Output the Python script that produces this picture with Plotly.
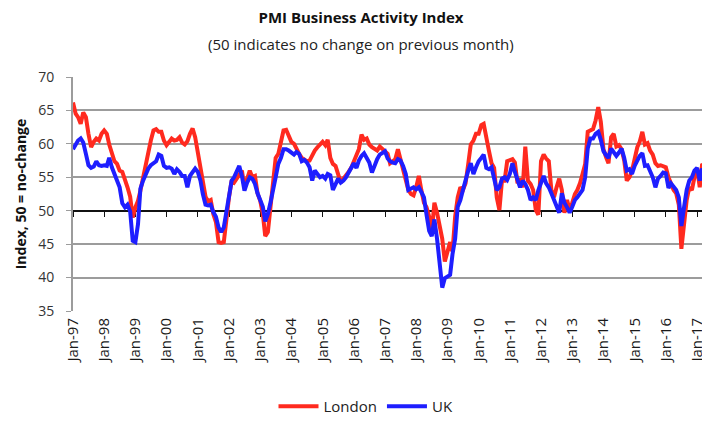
"""PMI Business Activity Index: London vs UK, monthly, Jan-97 to Apr-17."""

import pandas as pd
import plotly.graph_objects as go

START_MONTH = "1997-01-01"

# London business activity index, by year
LONDON = [
    66.2, 64.5, 64.0, 63.0, 64.7, 64.0, 61.5, 59.5, 60.3, 60.8, 60.5, 61.5,  # 1997
    62.0, 61.5, 59.9, 58.5, 57.4, 57.0, 56.0, 55.8, 54.8, 53.5, 52.1, 49.0,  # 1998
    50.5, 51.5, 53.0, 55.0, 56.5, 58.5, 60.5, 62.0, 62.2, 61.8, 61.8, 60.5,  # 1999
    59.8, 60.3, 60.8, 60.5, 60.6, 61.0, 60.2, 59.9, 60.4, 61.5, 62.3, 61.0,  # 2000
    58.5, 56.5, 54.0, 52.1, 51.4, 51.6, 49.5, 48.3, 45.3, 45.2, 45.3, 49.1,  # 2001
    52.0, 54.5, 54.2, 54.8, 55.5, 56.0, 53.5, 55.0, 56.0, 55.0, 55.2, 52.6,  # 2002
    51.5, 49.5, 46.2, 46.8, 50.6, 54.5, 57.9, 58.5, 60.5, 62.0, 62.1, 61.3,  # 2003
    60.3, 60.0, 59.2, 58.5, 57.9, 57.6, 57.4, 57.5, 58.4, 59.0, 59.5, 59.9,  # 2004
    60.3, 59.8, 60.6, 57.9, 57.0, 56.7, 55.5, 54.2, 54.8, 55.2, 55.8, 56.4,  # 2005
    57.5, 58.4, 59.2, 61.4, 60.6, 60.8, 59.9, 59.5, 59.2, 59.0, 59.6, 59.2,  # 2006
    59.0, 58.5, 57.1, 57.5, 57.7, 59.2, 57.7, 56.4, 55.0, 53.1, 52.5, 52.3,  # 2007
    53.5, 55.2, 53.1, 51.2, 50.5, 49.1, 46.8, 51.2, 49.7, 48.0, 45.8, 42.4,  # 2008
    44.0, 45.3, 43.9, 49.1, 52.0, 53.5, 53.1, 54.1, 57.0, 59.9, 60.5, 61.5,  # 2009
    61.5, 62.8, 63.0, 60.5, 59.0, 57.1, 56.4, 52.0, 50.1, 54.5, 54.5, 57.4,  # 2010
    57.5, 57.7, 57.2, 54.1, 54.8, 53.5, 59.6, 54.5, 54.0, 53.1, 50.1, 49.4,  # 2011
    57.4, 58.4, 57.8, 57.4, 53.1, 52.0, 53.5, 54.8, 53.1, 49.7, 51.6, 50.1,  # 2012
    51.2, 52.5, 53.1, 54.1, 55.5, 57.0, 61.8, 62.0, 62.2, 63.5, 65.5, 63.3,  # 2013
    59.2, 58.0, 57.1, 61.0, 61.5, 59.6, 59.8, 59.2, 57.5, 54.5, 55.0, 56.0,  # 2014
    57.9, 59.5, 60.3, 61.8, 59.9, 60.1, 59.0, 58.4, 57.1, 56.7, 56.8, 56.7,  # 2015
    56.5, 55.0, 54.0, 53.1, 52.6, 50.9, 44.3, 48.0, 51.6, 53.5, 53.1, 55.0,  # 2016
    56.3, 53.5, 57.0, 56.7,                                                  # 2017
]

# UK services business activity index
UK = [
    59.2, 59.8, 60.5, 60.8, 60.2, 58.5, 56.8, 56.4, 56.6, 57.4, 56.8, 56.7,  # 1997
    56.8, 56.7, 57.9, 56.5, 55.5, 54.5, 53.5, 51.1, 50.5, 50.9, 49.9, 45.5,  # 1998
    45.3, 48.0, 53.3, 54.5, 55.5, 56.3, 56.8, 57.2, 57.4, 58.4, 58.2, 56.7,  # 1999
    56.4, 56.5, 56.3, 55.5, 56.2, 55.8, 55.2, 55.2, 53.5, 55.2, 55.8, 56.3,  # 2000
    55.8, 54.5, 52.5, 50.9, 50.8, 50.9, 49.8, 49.1, 47.5, 46.8, 47.5, 50.1,  # 2001
    52.0, 54.5, 55.0, 56.0, 56.7, 55.2, 53.0, 54.2, 55.0, 54.8, 54.0, 52.6,  # 2002
    51.5, 50.6, 48.4, 49.5, 51.2, 53.5, 55.0, 57.0, 57.9, 59.2, 59.2, 59.0,  # 2003
    58.6, 58.4, 58.8, 58.5, 57.4, 57.6, 57.2, 56.5, 54.5, 56.0, 55.5, 55.0,  # 2004
    55.2, 54.8, 55.5, 55.3, 53.1, 54.0, 54.8, 54.2, 54.5, 55.0, 55.7, 56.5,  # 2005
    57.1, 56.4, 57.5, 58.2, 58.6, 57.9, 57.2, 55.7, 56.8, 57.7, 58.4, 58.6,  # 2006
    58.9, 57.8, 57.4, 57.2, 57.1, 57.7, 57.5, 56.7, 55.5, 53.1, 53.3, 53.5,  # 2007
    53.2, 53.5, 52.8, 52.0, 49.4, 47.0, 46.2, 48.7, 45.8, 41.4, 38.5, 39.9,  # 2008
    40.2, 40.4, 43.5, 45.8, 50.6, 51.6, 53.1, 54.8, 56.0, 57.1, 55.5, 56.5,  # 2009
    57.4, 57.9, 58.4, 56.4, 56.2, 56.5, 54.5, 53.1, 53.5, 54.8, 55.0, 54.6,  # 2010
    55.5, 57.1, 55.8, 54.5, 53.5, 54.5, 54.0, 53.1, 51.6, 52.0, 51.6, 53.1,  # 2011
    54.0, 55.2, 54.1, 53.5, 52.6, 51.6, 50.8, 49.7, 52.6, 51.2, 50.5, 49.7,  # 2012
    50.6, 51.6, 52.0, 52.5, 53.1, 55.0, 59.3, 60.8, 60.8, 61.5, 61.8, 60.6,  # 2013
    58.9, 58.3, 57.9, 59.3, 58.8, 58.2, 58.7, 59.3, 57.9, 56.0, 56.2, 55.5,  # 2014
    56.7, 57.5, 58.2, 58.6, 56.7, 56.8, 56.0, 55.0, 53.5, 54.8, 55.2, 55.7,  # 2015
    55.6, 53.4, 54.1, 53.5, 53.1, 52.0, 47.7, 50.5, 53.1, 54.5, 55.0, 56.0,  # 2016
    56.4, 54.5, 56.3, 55.5,                                                  # 2017
]

Y_TICKS = [35, 40, 45, 50, 55, 60, 65, 70]

months = pd.date_range(START_MONTH, periods=len(UK), freq="MS")

FONT = "Open Sans"
GRID = "#9c9c9c"

# page body has an 8px margin, so the figure is 8px smaller than the window
W, H = 702, 415
M_L, M_T, M_B = 65, 69, 105
PLOT_W, PLOT_H = W - M_L, H - M_T - M_B

fig = go.Figure()
fig.add_trace(go.Scatter(
    x=months, y=LONDON, name="London", mode="lines",
    line=dict(color="#ff2a1f", width=4),
))
# UK on the overlay axis so it sits on top of London and carries the 50-line axis
fig.add_trace(go.Scatter(
    x=months, y=UK, name="UK", mode="lines", xaxis="x2",
    line=dict(color="#1e1eff", width=4),
))

y_lo, y_hi = 35, 70
x_range = ["1997-01-01", "2017-06-01"]

fig.update_layout(
    width=W,
    height=H,
    margin=dict(l=M_L, r=0, t=M_T, b=M_B),
    paper_bgcolor="#ffffff",
    plot_bgcolor="#ffffff",
    font=dict(family=FONT, color="#222222", size=13),
    title=dict(
        text="<b>PMI Business Activity Index</b>",
        x=353 / W, xanchor="center",
        y=1 - 10 / H, yanchor="middle",
        font=dict(size=15, color="#111111"),
    ),
    annotations=[dict(
        text="(50 indicates no change on previous month)",
        xref="paper", yref="paper",
        x=(353 - M_L) / PLOT_W, y=1 + (M_T - 35) / PLOT_H,
        xanchor="center", yanchor="middle",
        showarrow=False, font=dict(size=15, color="#222222"),
    )],
    showlegend=True,
    legend=dict(
        orientation="h",
        x=(358 - M_L) / PLOT_W, xanchor="center",
        y=-(409 - M_T - PLOT_H) / PLOT_H, yanchor="middle",
        font=dict(size=15, color="#222222"),
        itemwidth=40,
        bgcolor="rgba(0,0,0,0)",
    ),
    xaxis=dict(
        type="date",
        range=x_range,
        tick0="1997-01-01",
        dtick="M12",
        tickformat="%b-%y",
        tickangle=-90,
        showgrid=False,
        showline=False,
        ticks="",
        ticklabelstandoff=3,
        zeroline=False,
        automargin=False,
        tickfont=dict(size=15, color="#1a1a1a"),
    ),
    xaxis2=dict(
        type="date",
        overlaying="x",
        matches="x",
        anchor="free",
        position=(50 - y_lo) / (y_hi - y_lo),
        tick0="1997-01-01",
        dtick="M12",
        showticklabels=False,
        ticks="outside",
        ticklen=5,
        tickwidth=1,
        tickcolor="#111111",
        showline=True,
        linecolor="#111111",
        linewidth=2,
        showgrid=False,
        zeroline=False,
        layer="below traces",
    ),
    yaxis=dict(
        range=[y_lo, y_hi],
        tickvals=Y_TICKS,
        showgrid=True,
        gridcolor=GRID,
        gridwidth=1.5,
        showline=True,
        linecolor=GRID,
        linewidth=2,
        ticks="outside",
        ticklen=5,
        tickcolor=GRID,
        ticklabelstandoff=9,
        zeroline=False,
        automargin=False,
        tickfont=dict(size=14, color="#333333"),
        title=dict(
            text="<b>Index, 50 = no-change</b>",
            font=dict(size=14, color="#111111"),
            standoff=8,
        ),
    ),
)

fig.write_html("out.html")
